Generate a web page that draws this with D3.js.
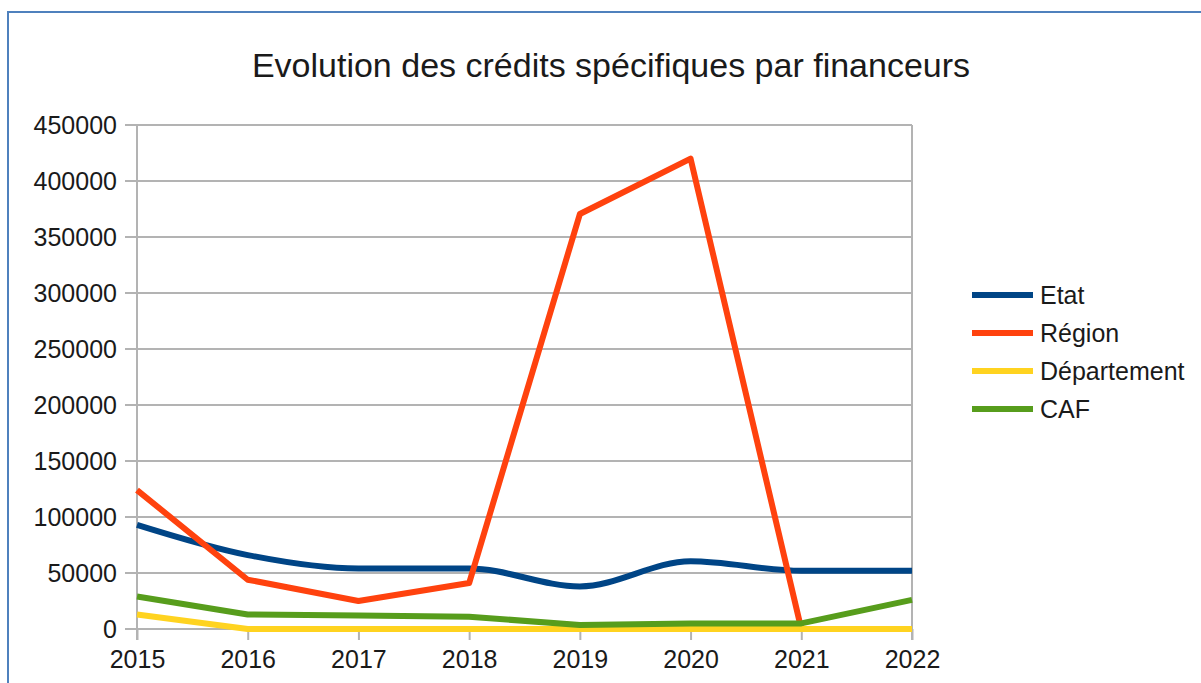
<!DOCTYPE html>
<html>
<head>
<meta charset="utf-8">
<script src="https://cdnjs.cloudflare.com/ajax/libs/d3/7.8.5/d3.min.js"></script>
<style>
  body { margin: 0; background: #fff; }
  svg { display: block; font-family: "Liberation Sans", Arial, sans-serif; }
</style>
</head>
<body>
<div id="chart"></div>
<script>
var years = [2015, 2016, 2017, 2018, 2019, 2020, 2021, 2022];
var etat = [93000, 66000, 54000, 54000, 38000, 60500, 52000, 52000];
var region = [124000, 44000, 25000, 41000, 370500, 420000, 0, 0];
var departement = [13000, 0, 0, 0, 0, 0, 0, 0];
var caf = [29000, 13000, 12000, 11000, 3500, 5000, 5000, 26000];
var yTicks = [0, 50000, 100000, 150000, 200000, 250000, 300000, 350000, 400000, 450000];

var series = [
  { name: "Etat", values: etat, color: "#004586", smooth: true },
  { name: "Région", values: region, color: "#ff420e", smooth: false },
  { name: "Département", values: departement, color: "#ffd320", smooth: false },
  { name: "CAF", values: caf, color: "#579d1c", smooth: false }
];

var W = 1201, H = 683;
var svg = d3.select("#chart").append("svg").attr("width", W).attr("height", H);

// frame
svg.append("rect")
  .attr("x", 8).attr("y", 12)
  .attr("width", W + 20).attr("height", H + 20)
  .attr("fill", "none").attr("stroke", "#4f81bd").attr("stroke-width", 2);

svg.append("text")
  .attr("x", 611).attr("y", 77)
  .attr("text-anchor", "middle")
  .attr("font-size", 34)
  .attr("fill", "#1a1a1a")
  .text("Evolution des crédits spécifiques par financeurs");

var x = d3.scalePoint().domain(years).range([137, 912]);
var y = d3.scaleLinear().domain([0, 450000]).range([629, 125]);

// grid
svg.append("g").selectAll("line")
  .data(yTicks)
  .enter().append("line")
  .attr("x1", 125).attr("x2", 912)
  .attr("y1", function(d) { return y(d); })
  .attr("y2", function(d) { return y(d); })
  .attr("stroke", "#b3b3b3").attr("stroke-width", 2);

svg.append("line")
  .attr("x1", 137).attr("x2", 137).attr("y1", 125).attr("y2", 640)
  .attr("stroke", "#b3b3b3").attr("stroke-width", 2);
svg.append("line")
  .attr("x1", 912).attr("x2", 912).attr("y1", 125).attr("y2", 640)
  .attr("stroke", "#b3b3b3").attr("stroke-width", 2);

var yAxis = svg.append("g")
  .attr("transform", "translate(137,0)")
  .call(d3.axisLeft(y).tickValues(yTicks).tickFormat(d3.format("d")).tickSize(0).tickPadding(20));
yAxis.select(".domain").remove();
yAxis.selectAll("text").attr("font-size", 25).attr("fill", "#1a1a1a")
  .attr("font-family", "Liberation Sans, Arial, sans-serif");

var xAxis = svg.append("g")
  .attr("transform", "translate(0,629)")
  .call(d3.axisBottom(x).tickSize(11).tickPadding(10));
xAxis.select(".domain").remove();
xAxis.selectAll("line").attr("stroke", "#b3b3b3").attr("stroke-width", 2);
xAxis.selectAll("text").attr("font-size", 25).attr("fill", "#1a1a1a")
  .attr("font-family", "Liberation Sans, Arial, sans-serif");

// lines
series.forEach(function(s) {
  var line = d3.line()
    .x(function(d, i) { return x(years[i]); })
    .y(function(d) { return y(d); })
    .curve(s.smooth ? d3.curveMonotoneX : d3.curveLinear);
  svg.append("path")
    .datum(s.values)
    .attr("d", line)
    .attr("fill", "none")
    .attr("stroke", s.color)
    .attr("stroke-width", 6)
    .attr("stroke-linejoin", "round");
});

// legend
var legend = svg.append("g").selectAll("g")
  .data(series)
  .enter().append("g")
  .attr("transform", function(d, i) { return "translate(972," + (295 + i * 38) + ")"; });
legend.append("line")
  .attr("x1", 0).attr("x2", 61).attr("y1", 0).attr("y2", 0)
  .attr("stroke", function(d) { return d.color; })
  .attr("stroke-width", 6);
legend.append("text")
  .attr("x", 68).attr("y", 9)
  .attr("font-size", 25)
  .attr("fill", "#1a1a1a")
  .text(function(d) { return d.name; });
</script>
</body>
</html>
